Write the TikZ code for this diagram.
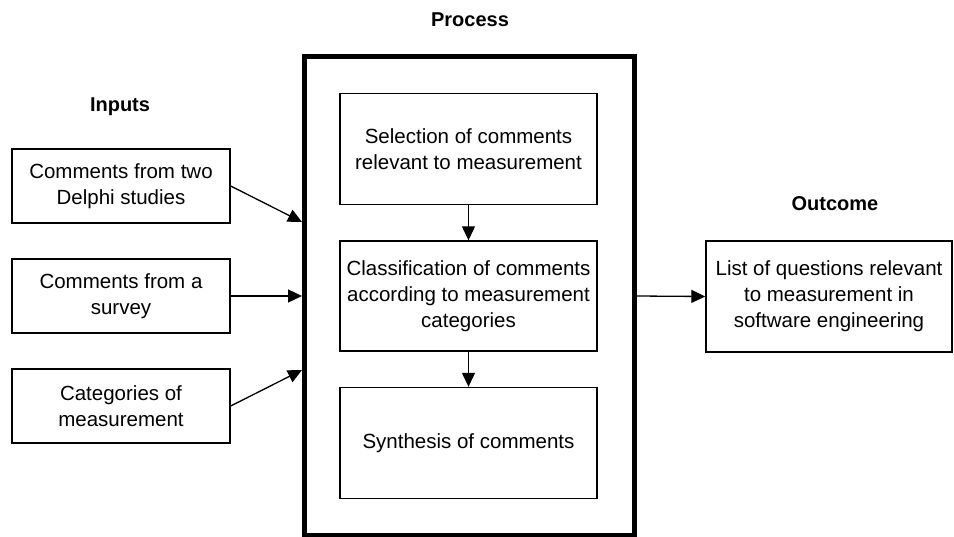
\documentclass[tikz,border=0pt]{standalone}
\usepackage{fontspec}
\setmainfont{Liberation Sans}
\usetikzlibrary{arrows.meta}
\begin{document}
\begin{tikzpicture}[x=1pt,y=-1pt,
  every node/.style={inner sep=2pt},
  txt/.style={font=\fontsize{20.5}{26}\selectfont, align=center},
  ttl/.style={font=\fontsize{20}{24}\selectfont\bfseries},
  boxnode/.style={txt, draw, line width=1.4pt, rectangle},
  inbox/.style={boxnode, minimum width=218pt, minimum height=74pt},
  stepbox/.style={boxnode, minimum width=257pt, minimum height=111pt},
  arr/.style={line width=1.3pt, -{Triangle[length=14pt,width=13pt]}}
]
\useasboundingbox (0,0) rectangle (954,536);
% titles
\node[ttl] (tp) at (470,20) {Process};
\node[ttl] (ti) at (120,107) {Inputs};
\node[ttl] (to) at (835,204) {Outcome};
% process frame
\node[draw, line width=5pt, minimum width=330pt, minimum height=479pt, inner sep=0pt] (P) at (469.5,295.5) {};
% inputs
\node[inbox] (i1) at (121,186) {Comments from two\\Delphi studies};
\node[inbox] (i2) at (121,296) {Comments from a\\survey};
\node[inbox] (i3) at (121,406) {Categories of\\measurement};
% steps
\node[stepbox] (s1) at (468.5,149) {Selection of comments\\relevant to measurement};
\node[stepbox, minimum height=110pt] (s2) at (468.5,296) {Classification of comments\\according to measurement\\categories};
\node[stepbox] (s3) at (468.5,443) {Synthesis of comments};
% outcome
\node[boxnode, minimum width=246pt, minimum height=111pt] (o) at (829,296.5) {List of questions relevant\\to measurement in\\software engineering};
% connector end points on process frame
\coordinate (p1) at (302,222);
\coordinate (p2) at (302,296);
\coordinate (p3) at (302,370);
\coordinate (pr) at (637,296);
% connectors
\draw[arr] (i1.east) -- (p1);
\draw[arr] (i2.east) -- (p2);
\draw[arr] (i3.east) -- (p3);
\draw[arr] (s1.south) -- (s2.north);
\draw[arr] (s2.south) -- (s3.north);
\draw[arr] (pr) -- (o.west);
\end{tikzpicture}
\end{document}
